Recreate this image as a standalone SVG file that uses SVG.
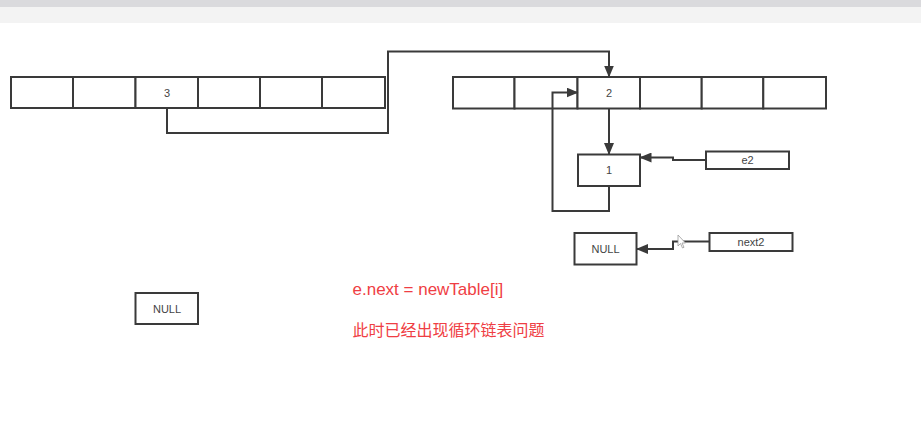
<svg xmlns="http://www.w3.org/2000/svg" width="921" height="442" viewBox="0 0 921 442">
<style>
.box{fill:#fff;stroke:#3a3a3a;stroke-width:2}
.lbl{font-family:"Liberation Sans",Arial,sans-serif;font-size:11px;fill:#444;text-anchor:middle}
.conn{fill:none;stroke:#3a3a3a;stroke-width:2}
.red{font-family:"Liberation Sans","Noto Sans CJK SC",sans-serif;fill:#ef3e44}
</style>
<defs>
<marker id="ah" markerUnits="userSpaceOnUse" markerWidth="12" markerHeight="10" refX="11" refY="5" orient="auto">
<path d="M0,0 L12,5 L0,10 z" fill="#3a3a3a"/>
</marker>
</defs>
<rect x="0" y="0" width="921" height="442" fill="#fff"/>
<rect x="0" y="0" width="921" height="7" fill="#dadadd"/>
<rect x="0" y="7" width="921" height="16" fill="#f3f3f3"/>

<g id="oldTable">
<rect class="box" x="11" y="77" width="62" height="31"/>
<rect class="box" x="73" y="77" width="62.5" height="31"/>
<rect class="box" x="135.5" y="77" width="62.5" height="31"/>
<rect class="box" x="198" y="77" width="62" height="31"/>
<rect class="box" x="260" y="77" width="62" height="31"/>
<rect class="box" x="322" y="77" width="63" height="31"/>
<text class="lbl" x="167" y="96.5">3</text>
</g>

<g id="newTable">
<rect class="box" x="453" y="77" width="61.5" height="31.5"/>
<rect class="box" x="514.5" y="77" width="63" height="31.5"/>
<rect class="box" x="577.5" y="77" width="62.5" height="31.5"/>
<rect class="box" x="640" y="77" width="61.7" height="31.5"/>
<rect class="box" x="701.7" y="77" width="61.6" height="31.5"/>
<rect class="box" x="763.3" y="77" width="62.7" height="31.5"/>
<text class="lbl" x="609" y="97">2</text>
</g>

<g id="node1">
<rect class="box" x="578" y="154.5" width="62" height="31.5"/>
<text class="lbl" x="609" y="174">1</text>
</g>

<g id="e2">
<rect class="box" x="706" y="151.5" width="83" height="17.5"/>
<text class="lbl" x="747.5" y="164">e2</text>
</g>

<g id="next2">
<rect class="box" x="709.5" y="233" width="83" height="18"/>
<text class="lbl" x="751" y="245.5">next2</text>
</g>

<g id="null1">
<rect class="box" x="574.5" y="233" width="62" height="31.5"/>
<text class="lbl" x="605.5" y="252.5">NULL</text>
</g>

<g id="null2">
<rect class="box" x="135.5" y="293" width="62.5" height="31"/>
<text class="lbl" x="167" y="312.5">NULL</text>
</g>

<g id="connectors">
<path class="conn" d="M167,108 V133 H388 V51.5 H609 V76.5" marker-end="url(#ah)"/>
<path class="conn" d="M609,108.5 V154" marker-end="url(#ah)"/>
<path class="conn" d="M609,186 V211 H552.5 V92.5 H577.5" marker-end="url(#ah)"/>
<path class="conn" d="M706,160 H673 V157.5 H640.5" marker-end="url(#ah)"/>
<path class="conn" d="M709.5,241.5 H673 V249 H637" marker-end="url(#ah)"/>
</g>

<g id="notes">
<text class="red" x="352.5" y="295" font-size="17">e.next = newTable[i]</text>
<text class="red" x="352.5" y="336" font-size="16">此时已经出现循环链表问题</text>
</g>

<g id="cursor">
<path d="M678,235 V246 L680.5,243.5 L682.5,248 L684,247.3 L682,243 L685.5,243 Z" fill="#fff" stroke="#999" stroke-width="0.8"/>
</g>
</svg>
